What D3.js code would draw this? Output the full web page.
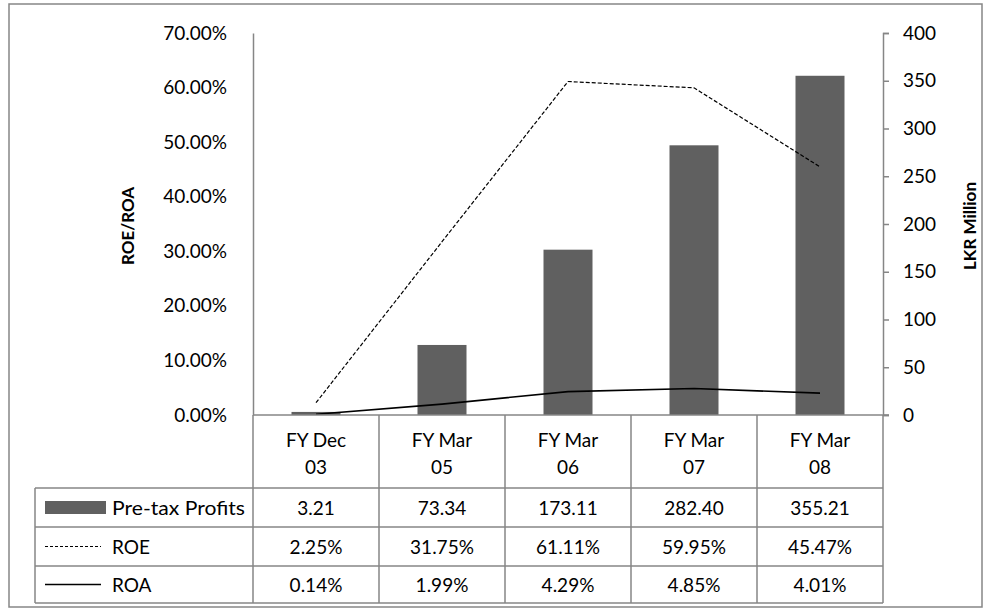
<!DOCTYPE html>
<html>
<head>
<meta charset="utf-8">
<script src="https://cdn.jsdelivr.net/npm/d3@7/dist/d3.min.js"></script>
<style>
  body { margin: 0; background: #fff; }
  text { font-family: Lato, "Open Sans", sans-serif; fill: #000; }
</style>
</head>
<body>
<div id="chart"></div>
<script>
const categories = [["FY Dec", "03"], ["FY Mar", "05"], ["FY Mar", "06"], ["FY Mar", "07"], ["FY Mar", "08"]];
const profits = [3.21, 73.34, 173.11, 282.40, 355.21];
const roe = [2.25, 31.75, 61.11, 59.95, 45.47];
const roa = [0.14, 1.99, 4.29, 4.85, 4.01];
const leftTicks = [0, 10, 20, 30, 40, 50, 60, 70];
const rightTicks = [0, 50, 100, 150, 200, 250, 300, 350, 400];

const w = 986, h = 610;
const plot = { left: 253, right: 883, top: 33, bottom: 415 };
const rows = [415, 488, 527, 566, 603];
const tableLeft = 35;
const grey = "#868686";
const fs = "19px";

const svg = d3.select("#chart").append("svg")
  .attr("width", w)
  .attr("height", h);

// outer chart border
svg.append("rect")
  .attr("x", 9).attr("y", 4)
  .attr("width", 973).attr("height", 603)
  .attr("fill", "none")
  .attr("stroke", grey)
  .attr("stroke-width", 1.5);

const x = d3.scaleBand()
  .domain(d3.range(categories.length))
  .range([plot.left, plot.right])
  .padding(0);
const yL = d3.scaleLinear().domain([0, 70]).range([plot.bottom, plot.top]);
const yR = d3.scaleLinear().domain([0, 400]).range([plot.bottom, plot.top]);
const barW = 49;

// bars
svg.append("g").selectAll("rect")
  .data(profits)
  .join("rect")
  .attr("x", (d, i) => x(i) + (x.bandwidth() - barW) / 2)
  .attr("y", d => yR(d))
  .attr("width", barW)
  .attr("height", d => yR(0) - yR(d))
  .attr("fill", "#606060");

// lines
const cx = i => x(i) + x.bandwidth() / 2;
const line = d3.line().x((d, i) => cx(i)).y(d => yL(d));
svg.append("path")
  .datum(roe)
  .attr("d", line)
  .attr("fill", "none")
  .attr("stroke", "#000")
  .attr("stroke-width", 1.2)
  .attr("stroke-dasharray", "4,2");
svg.append("path")
  .datum(roa)
  .attr("d", line)
  .attr("fill", "none")
  .attr("stroke", "#000")
  .attr("stroke-width", 1.6);

// left axis (no tick marks)
const left = svg.append("g")
  .attr("transform", `translate(${plot.left},0)`)
  .call(d3.axisLeft(yL).tickValues(leftTicks).tickSize(0).tickPadding(26)
    .tickFormat(d => d.toFixed(2) + "%"));
left.select(".domain").attr("stroke", grey).attr("stroke-width", 1.5);
left.selectAll("text").style("font-size", fs).attr("fill", "#000");

// right axis
const right = svg.append("g")
  .attr("transform", `translate(${plot.right},0)`)
  .call(d3.axisRight(yR).tickValues(rightTicks).tickSizeInner(6).tickSizeOuter(6).tickPadding(14));
right.select(".domain").attr("stroke", grey).attr("stroke-width", 1.5);
right.selectAll(".tick line").attr("stroke", grey).attr("stroke-width", 1.5);
right.selectAll("text").style("font-size", fs).attr("fill", "#000");

// axis titles
svg.append("text")
  .attr("transform", `translate(134,226) rotate(-90)`)
  .attr("text-anchor", "middle")
  .style("font-size", "17px")
  .style("font-weight", "bold")
  .text("ROE/ROA");
svg.append("text")
  .attr("transform", `translate(976,226) rotate(-90)`)
  .attr("text-anchor", "middle")
  .style("font-size", "17px")
  .style("font-weight", "bold")
  .text("LKR Million");

// data table grid
const grid = svg.append("g").attr("stroke", grey).attr("stroke-width", 1.5);
grid.append("line").attr("x1", plot.left).attr("x2", plot.right + 6)
  .attr("y1", rows[0]).attr("y2", rows[0]);
rows.slice(1).forEach(r => grid.append("line")
  .attr("x1", tableLeft).attr("x2", plot.right).attr("y1", r).attr("y2", r));
grid.append("line").attr("x1", tableLeft).attr("x2", tableLeft)
  .attr("y1", rows[1]).attr("y2", rows[4]);
d3.range(categories.length + 1).forEach(i => {
  const xx = i < categories.length ? x(i) : plot.right;
  grid.append("line").attr("x1", xx).attr("x2", xx)
    .attr("y1", rows[0]).attr("y2", rows[4]);
});

// header labels
categories.forEach((c, i) => {
  const t = svg.append("text")
    .attr("text-anchor", "middle")
    .style("font-size", fs);
  t.append("tspan").attr("x", cx(i)).attr("y", 447).text(c[0]);
  t.append("tspan").attr("x", cx(i)).attr("y", 474).text(c[1]);
});

// value rows
const tableRows = [
  { name: "Pre-tax Profits", vals: profits.map(d => d.toFixed(2)), key: "bar" },
  { name: "ROE", vals: roe.map(d => d.toFixed(2) + "%"), key: "dash" },
  { name: "ROA", vals: roa.map(d => d.toFixed(2) + "%"), key: "solid" }
];
tableRows.forEach((r, ri) => {
  const yc = (rows[ri + 1] + rows[ri + 2]) / 2;
  r.vals.forEach((v, i) => {
    svg.append("text")
      .attr("x", cx(i)).attr("y", yc + 7)
      .attr("text-anchor", "middle")
      .style("font-size", fs)
      .text(v);
  });
  if (r.key === "bar") {
    svg.append("rect").attr("x", 45).attr("y", yc - 6.5).attr("width", 61).attr("height", 13)
      .attr("fill", "#606060");
  } else {
    svg.append("line").attr("x1", 45).attr("x2", 101).attr("y1", yc).attr("y2", yc)
      .attr("stroke", "#000")
      .attr("stroke-width", r.key === "dash" ? 1.2 : 1.6)
      .attr("stroke-dasharray", r.key === "dash" ? "3,2" : null);
  }
  const lbl = svg.append("text").attr("x", 112).attr("y", yc + 7)
    .style("font-size", fs).text(r.name);
  if (r.key === "bar") lbl.attr("textLength", 133).attr("lengthAdjust", "spacingAndGlyphs");
});
</script>
</body>
</html>
